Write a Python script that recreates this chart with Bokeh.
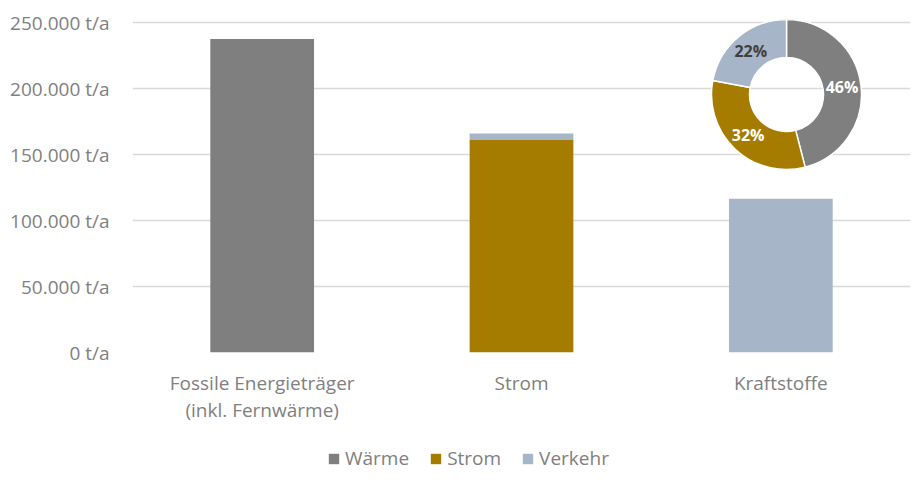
import math
from bokeh.plotting import figure
from bokeh.layouts import column
from bokeh.models import (ColumnDataSource, Range1d, FixedTicker,
                          Legend, LegendItem)
from bokeh.core.properties import value
from bokeh.embed import file_html
from bokeh.resources import INLINE

# ---- data ----
categories = ["Fossile Energieträger\n(inkl. Fernwärme)", "Strom", "Kraftstoffe"]
series = ["Wärme", "Strom", "Verkehr"]
waerme = [237500, 0, 0]
strom = [0, 161000, 0]
verkehr = [0, 5000, 116500]
colors = ["#7F7F7F", "#A67C00", "#A6B5C7"]
y_ticks = [0, 50000, 100000, 150000, 200000, 250000]
y_tick_labels = ["0 t/a", "50.000 t/a", "100.000 t/a", "150.000 t/a",
                 "200.000 t/a", "250.000 t/a"]
donut_shares = [46, 32, 22]
donut_labels = ["46%", "32%", "22%"]
donut_label_colors = ["#FFFFFF", "#FFFFFF", "#404040"]

FONT = "Open Sans"
TXT = "#808080"
FS = "19px"

xpos = [i + 0.5 for i in range(len(categories))]

W, H, HL = 916, 430, 47
p = figure(width=W, height=H, output_backend="svg", toolbar_location=None,
           x_range=Range1d(0, len(categories)),
           y_range=Range1d(0, 252300),
           min_border_left=132, min_border_right=6, min_border_top=19,
           min_border_bottom=H - 352)
p.outline_line_color = None
p.background_fill_color = "white"
p.border_fill_color = "white"

src = ColumnDataSource(dict(x=xpos, **{"Wärme": waerme, "Strom": strom, "Verkehr": verkehr}))
p.vbar_stack(series, x="x", width=0.4, color=colors, source=src, line_color=None)

# axes
p.xaxis.ticker = FixedTicker(ticks=xpos)
p.xaxis.major_label_overrides = {x: c for x, c in zip(xpos, categories)}
p.xaxis.axis_line_color = None
p.xaxis.major_tick_line_color = None
p.xaxis.minor_tick_line_color = None
p.xaxis.major_label_text_font = FONT
p.xaxis.major_label_text_font_size = FS
p.xaxis.major_label_text_color = TXT
p.xaxis.major_label_standoff = 11
p.xaxis.major_label_text_line_height = 1.05

p.yaxis.ticker = FixedTicker(ticks=y_ticks)
p.yaxis.major_label_overrides = {t: l for t, l in zip(y_ticks, y_tick_labels)}
p.yaxis.axis_line_color = None
p.yaxis.major_tick_line_color = None
p.yaxis.minor_tick_line_color = None
p.yaxis.major_label_text_font = FONT
p.yaxis.major_label_text_font_size = FS
p.yaxis.major_label_text_color = TXT
p.yaxis.major_label_standoff = 17

p.xgrid.grid_line_color = None
p.ygrid.ticker = FixedTicker(ticks=y_ticks)
p.ygrid.grid_line_color = "#D9D9D9"
p.ygrid.grid_line_width = 1.5

# ---- donut inset (screen-space ranges) ----
p.extra_x_ranges = {"d": Range1d(0, 778)}
p.extra_y_ranges = {"d": Range1d(0, 333)}
cx, cy = 654, 258
r_in, r_out = 37, 75
tot = sum(donut_shares)
starts, ends, lx, ly = [], [], [], []
cum = 0
for s in donut_shares:
    a0 = math.pi / 2 - 2 * math.pi * cum / tot
    a1 = math.pi / 2 - 2 * math.pi * (cum + s) / tot
    starts.append(a0)
    ends.append(a1)
    mid = (a0 + a1) / 2
    rm = (r_in + r_out) / 2
    lx.append(cx + rm * math.cos(mid))
    ly.append(cy + rm * math.sin(mid))
    cum += s
dsrc = ColumnDataSource(dict(x=[cx] * 3, y=[cy] * 3, s=starts, e=ends, c=colors,
                             lx=lx, ly=ly, t=donut_labels, tc=donut_label_colors))
p.annular_wedge(x="x", y="y", inner_radius=r_in, outer_radius=r_out,
                inner_radius_units="screen", outer_radius_units="screen",
                start_angle="s", end_angle="e", direction="clock",
                fill_color="c", line_color="white", line_width=1.5,
                source=dsrc, x_range_name="d", y_range_name="d")
p.text(x="lx", y="ly", text="t", text_color="tc", text_font=value(FONT),
       text_font_style="bold", text_font_size="16px", text_align="center",
       text_baseline="middle", source=dsrc, x_range_name="d", y_range_name="d")

# ---- legend (separate strip below) ----
lf = figure(width=W, height=HL, output_backend="svg", toolbar_location=None,
            x_range=Range1d(0, 1), y_range=Range1d(0, 1), min_border=0)
lf.axis.visible = False
lf.grid.visible = False
lf.outline_line_color = None
lf.border_fill_color = "white"
items = []
for s, c in zip(series, colors):
    # a single off-range bar per series so the legend swatch is drawn
    r = lf.vbar(x=[-10], top=[0], width=0.1, color=c, line_color=None)
    items.append(LegendItem(label=s, renderers=[r]))
legend = Legend(items=items, orientation="horizontal", location=(195, 6),
                glyph_width=13, glyph_height=13, label_standoff=5, spacing=20,
                label_text_font=FONT, label_text_font_size=FS,
                label_text_color=TXT, border_line_color=None,
                background_fill_alpha=0, padding=0, margin=0)
lf.add_layout(legend, "center")

layout = column(p, lf, spacing=0)
open("out.html", "w").write(file_html(layout, INLINE))
